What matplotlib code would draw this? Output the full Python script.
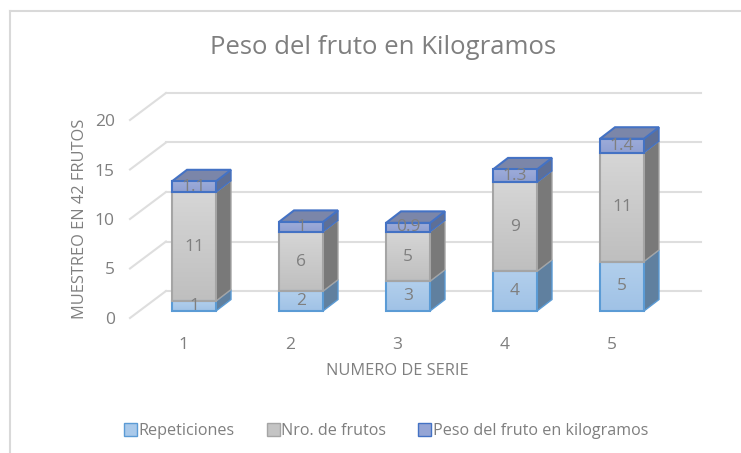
import numpy as np
import matplotlib
matplotlib.use('Agg')
import matplotlib.pyplot as plt
from matplotlib.lines import Line2D
from matplotlib.patches import Patch
from matplotlib.transforms import Affine2D

categories = [1, 2, 3, 4, 5]
repeticiones = [1, 2, 3, 4, 5]
frutos = [11, 6, 5, 9, 11]
peso = [1.1, 1, 0.9, 1.3, 1.4]
peso_labels = ['1.1', '1', '0.9', '1.3', '1.4']
y_ticks = [0, 5, 10, 15, 20]

W, H = 741, 453
TEXT = '#7f7f7f'
plt.rcParams['font.family'] = ['Open Sans', 'DejaVu Sans']

fig = plt.figure(figsize=(W / 100, H / 100), dpi=100)

# axes plane is the front edge of the 3d floor, everything else is offset from it
left, right, y0, y20 = 130, 665, 318, 120
ax = fig.add_axes([left / W, 1 - y0 / H, (right - left) / W, (y0 - y20) / H])
ax.set_xlim(0.5, 5.5)
ax.set_ylim(0, 20)
ax.patch.set_visible(False)
for s in ax.spines.values():
    s.set_visible(False)

# back wall and side wall grid
back = ax.transData + Affine2D().translate(36, 27)
for v in y_ticks:
    ax.plot([0.5, 5.5], [v, v], color='#dedede', lw=1.5, transform=back, zorder=1, clip_on=False)
    p0 = ax.transData.transform((0.5, v))
    ax.plot([p0[0], p0[0] + 36], [p0[1], p0[1] + 27], color='#dedede', lw=1.5,
            transform=None, zorder=1, clip_on=False)


def face(x0, x1, b, t, c_top, c_bot, edge):
    """ Front face of one segment, vertical gradient and a border. """
    grad = np.linspace(0, 1, 50)[:, None, None]
    img = np.array(matplotlib.colors.to_rgb(c_top)) * (1 - grad) + np.array(matplotlib.colors.to_rgb(c_bot)) * grad
    ax.imshow(img, extent=(x0, x1, b, t), aspect='auto', origin='upper', transform=bar_tr, zorder=3,
              clip_on=False)
    ax.bar((x0 + x1) / 2, t - b, x1 - x0, bottom=b, facecolor='none', edgecolor=edge, lw=1.5,
           transform=bar_tr, zorder=4, clip_on=False)


def side(x1, b, t, color, edge):
    """ Right face of one segment, sheared in pixels. """
    pa = bar_tr.transform((x1, b))
    pb = bar_tr.transform((x1, t))
    xs = [pa[0], pa[0] + 15, pb[0] + 15, pb[0]]
    ys = [pa[1], pa[1] + 11.5, pb[1] + 11.5, pb[1]]
    ax.fill(xs, ys, facecolor=color, edgecolor=edge, lw=1, transform=None, zorder=2.5, clip_on=False)


def top(x0, x1, t, color, edge):
    """ Top face of the stack. """
    pa = bar_tr.transform((x0, t))
    pb = bar_tr.transform((x1, t))
    xs = [pa[0], pb[0], pb[0] + 15, pa[0] + 15]
    ys = [pa[1], pb[1], pb[1] + 11.5, pa[1] + 11.5]
    ax.fill(xs, ys, facecolor=color, edgecolor=edge, lw=1.5, transform=None, zorder=2.6, clip_on=False)


bar_tr = ax.transData + Affine2D().translate(10.5, 7)
width = 44 / 107
series = [
    (repeticiones, '#b2cfec', '#a0c2e6', '#5b9bd5', '#60809f'),
    (frutos, '#d6d6d6', '#bfbfbf', '#a5a5a5', '#797979'),
    (peso, '#9dacd9', '#8f9fd2', '#4472c4', '#5e6f96'),
]

for i, cat in enumerate(categories):
    x0, x1 = cat - width / 2, cat + width / 2
    base = 0
    for values, c_top, c_bot, edge, c_side in series:
        t = base + values[i]
        side(x1, base, t, c_side, edge)
        face(x0, x1, base, t, c_top, c_bot, edge)
        base = t
    top(x0, x1, base, '#7b86a9', '#4472c4')

    # data labels sit in the centre of each segment
    b1 = repeticiones[i]
    b2 = b1 + frutos[i]
    ax.text(cat, repeticiones[i] / 2, str(repeticiones[i]), transform=bar_tr, ha='center', va='center',
            color=TEXT, fontsize=12.5, zorder=6)
    ax.text(cat, b1 + frutos[i] / 2, str(frutos[i]), transform=bar_tr, ha='center', va='center',
            color=TEXT, fontsize=12.5, zorder=6)
    ax.text(cat, b2 + peso[i] / 2, peso_labels[i], transform=bar_tr, ha='center', va='center',
            color=TEXT, fontsize=12.5, zorder=6)

ax.set_xlim(0.5, 5.5)
ax.set_ylim(0, 20)

ax.set_yticks(y_ticks)
ax.set_xticks(categories)
ax.tick_params(axis='both', length=0, labelcolor='#7f7f7f', labelsize=12.5)
ax.tick_params(axis='y', pad=11)
ax.tick_params(axis='x', pad=14)
ax.set_xlabel('NUMERO DE SERIE', color=TEXT, fontsize=11.8, labelpad=7)
ax.set_ylabel('MUESTREO EN 42 FRUTOS', color=TEXT, fontsize=11.8, labelpad=5)

fig.text(383 / W, 1 - 48 / H, 'Peso del fruto en Kilogramos', ha='center', va='center',
         color=TEXT, fontsize=18.5)

# chart frame, only top and left are visible in the screenshot
fig.add_artist(Line2D([10 / W, 10 / W], [0, 1 - 11 / H], color='#d9d9d9', lw=1.5))
fig.add_artist(Line2D([10 / W, 1], [1 - 11 / H, 1 - 11 / H], color='#d9d9d9', lw=1.5))

handles = [
    Patch(facecolor='#a9c9ea', edgecolor='#5b9bd5', label='Repeticiones'),
    Patch(facecolor='#c4c4c4', edgecolor='#a5a5a5', label='Nro. de frutos'),
    Patch(facecolor='#95a5d5', edgecolor='#4472c4', label='Peso del fruto en kilogramos'),
]
fig.legend(handles=handles, loc='center', bbox_to_anchor=(386 / W, 1 - 431 / H), ncol=3, frameon=False,
           fontsize=11.6, labelcolor=TEXT, handlelength=0.8, handleheight=0.8, handletextpad=0.1,
           columnspacing=2.0)

fig.savefig('out.png', dpi=100)
